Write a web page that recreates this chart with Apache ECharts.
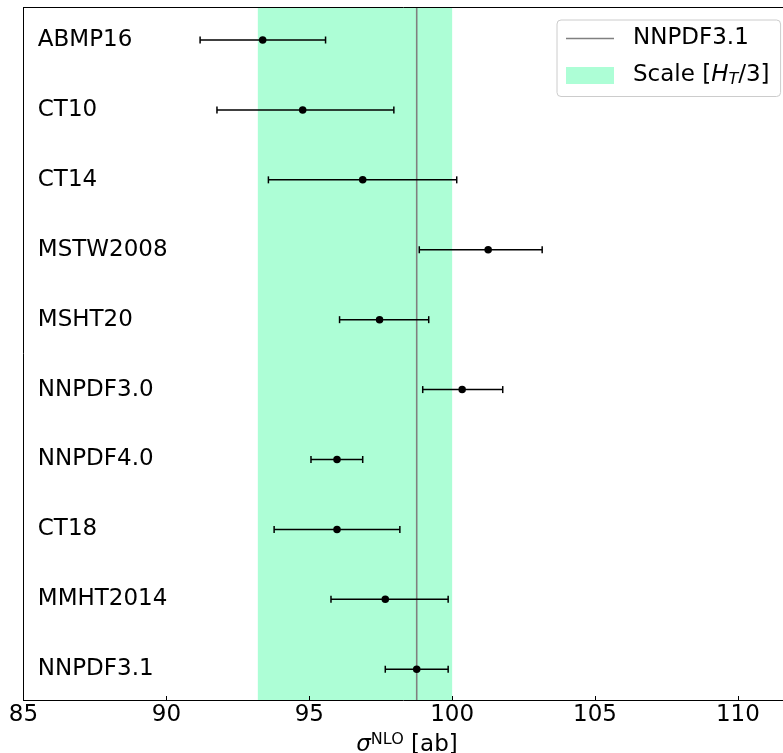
<!DOCTYPE html>
<html>
<head>
<meta charset="utf-8">
<script src="https://cdn.jsdelivr.net/npm/echarts@6/dist/echarts.min.js"></script>
<style>
html,body{margin:0;padding:0;background:#fff;overflow:hidden;}
#main{width:783px;height:753px;}
</style>
</head>
<body>
<div id="main"></div>
<script>
const names = ['ABMP16','CT10','CT14','MSTW2008','MSHT20','NNPDF3.0','NNPDF4.0','CT18','MMHT2014','NNPDF3.1'];
const central = [93.37, 94.77, 96.87, 101.26, 97.46, 100.35, 95.97, 95.97, 97.66, 98.76];
const lower   = [91.18, 91.77, 93.57, 98.85, 96.06, 98.97, 95.06, 93.77, 95.76, 97.66];
const upper   = [95.57, 97.96, 100.16, 103.15, 99.18, 101.77, 96.87, 98.17, 99.86, 99.86];
const refValue = 98.76;
const scaleBand = [93.2, 100.0];
const xMin = 85, xMax = 111.84, xInterval = 5;
const yMin = -0.465, yMax = 9.44;
const FONT = 'DejaVu Sans';
const bandColor = '#adfed6';

const chart = echarts.init(document.getElementById('main'), null, {renderer:'canvas', width: 783, height: 753});
const option = {
  animation: false,
  backgroundColor: '#fff',
  grid: {left: 23.5, top: 7.5, width: 767, height: 692.5, containLabel: false, outerBoundsMode: 'none'},
  xAxis: [{
    type: 'value', min: xMin, max: xMax, interval: xInterval, z: 5, position: 'bottom',
    axisLine: {show: true, onZero: false, lineStyle: {color: '#000', width: 1}},
    axisTick: {show: true, inside: true, length: 4, lineStyle: {color: '#000', width: 1}},
    axisLabel: {fontSize: 23, color: '#000', fontFamily: FONT, margin: 4},
    splitLine: {show: false},
    name: '{s|σ}{sup|NLO}{n| [ab]}',
    nameLocation: 'middle', nameGap: 32,
    nameTextStyle: {
      fontSize: 23, color: '#000', fontFamily: FONT,
      rich: {
        s: {fontSize: 23, fontStyle: 'italic', fontFamily: FONT, color: '#000'},
        sup: {fontSize: 16, fontFamily: FONT, color: '#000', verticalAlign: 'top', padding: [0,0,10,0]},
        n: {fontSize: 23, fontFamily: FONT, color: '#000'}
      }
    }
  },{
    type: 'value', position: 'top', min: xMin, max: xMax, interval: xInterval, z: 5,
    axisLine: {show: true, onZero: false, lineStyle: {color: '#000', width: 1}},
    axisTick: {show: false}, axisLabel: {show: false}, splitLine: {show: false}
  }],
  yAxis: {
    type: 'value', inverse: true, min: yMin, max: yMax, z: 5,
    axisLine: {show: true, onZero: false, lineStyle: {color: '#000', width: 1}},
    axisTick: {show: false}, axisLabel: {show: false}, splitLine: {show: false}
  },
  legend: {
    left: 557, top: 20, orient: 'vertical',
    padding: [7, 11, 9, 9],
    itemGap: 14, itemWidth: 48, itemHeight: 17,
    backgroundColor: 'rgba(255,255,255,0.8)',
    borderColor: '#cccccc', borderWidth: 1, borderRadius: 4,
    data: [
      {name: 'NNPDF3.1', icon: 'path://M0,0L48,0L48,1.6L0,1.6Z'},
      {name: 'Scale [HT/3]', icon: 'rect'}
    ],
    formatter: function (n) {
      if (n === 'Scale [HT/3]') return '{n|Scale [}{i|H}{sub|T}{n|/3]}';
      return '{n|' + n + '}';
    },
    textStyle: {
      fontSize: 23, color: '#000', fontFamily: FONT, padding: [0,0,0,14],
      rich: {
        n: {fontSize: 23, fontFamily: FONT, color: '#000'},
        i: {fontSize: 23, fontFamily: FONT, fontStyle: 'italic', color: '#000'},
        sub: {fontSize: 16, fontFamily: FONT, fontStyle: 'italic', color: '#000', verticalAlign: 'bottom', padding: [8,0,0,0]}
      }
    }
  },
  series: [
    {
      name: 'Scale [HT/3]', type: 'custom', z: 1, silent: true,
      itemStyle: {color: bandColor},
      data: [[scaleBand[0], scaleBand[1]]],
      encode: {x: [0, 1]},
      renderItem: function (params, api) {
        const p1 = api.coord([api.value(0), yMin]);
        const p2 = api.coord([api.value(1), yMax]);
        return {type: 'rect', shape: {x: p1[0], y: Math.min(p1[1], p2[1]), width: p2[0]-p1[0], height: Math.abs(p2[1]-p1[1])},
                style: {fill: bandColor}};
      }
    },
    {
      name: 'NNPDF3.1', type: 'line', z: 2, symbol: 'none', silent: true,
      lineStyle: {color: '#808080', width: 1.6},
      itemStyle: {color: '#808080'},
      data: [[refValue, yMin], [refValue, yMax]]
    },
    {
      name: 'errors', type: 'custom', z: 3, silent: true,
      data: names.map((n, i) => [i, lower[i], upper[i]]),
      encode: {x: [1, 2], y: 0},
      renderItem: function (params, api) {
        const i = api.value(0);
        const a = api.coord([api.value(1), i]);
        const b = api.coord([api.value(2), i]);
        const st = {stroke: '#000', lineWidth: 1.5};
        const cap = 3.5;
        return {type: 'group', children: [
          {type: 'line', shape: {x1: a[0], y1: a[1], x2: b[0], y2: b[1]}, style: st},
          {type: 'line', shape: {x1: a[0], y1: a[1]-cap, x2: a[0], y2: a[1]+cap}, style: st},
          {type: 'line', shape: {x1: b[0], y1: b[1]-cap, x2: b[0], y2: b[1]+cap}, style: st}
        ]};
      }
    },
    {
      name: 'central', type: 'scatter', z: 4, silent: true,
      symbol: 'circle', symbolSize: 7.5,
      itemStyle: {color: '#000', opacity: 1},
      data: central.map((v, i) => [v, i])
    },
    {
      name: 'labels', type: 'scatter', z: 4, silent: true,
      symbolSize: 0,
      itemStyle: {opacity: 1},
      data: names.map((n, i) => [xMin + 0.5, i]),
      label: {
        show: true, position: 'right', distance: 0, opacity: 1,
        formatter: p => names[p.dataIndex],
        fontSize: 23, color: '#000', fontFamily: FONT
      }
    }
  ]
};
chart.setOption(option);
</script>
</body>
</html>
